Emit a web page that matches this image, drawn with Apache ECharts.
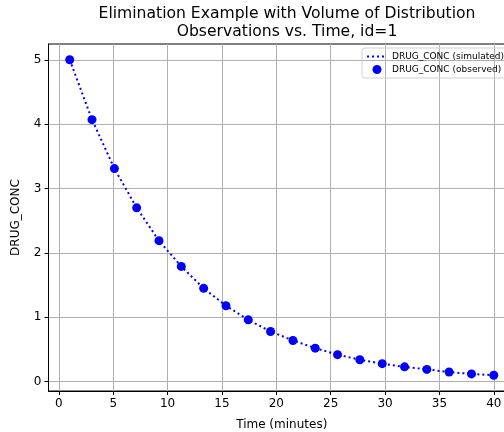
<!DOCTYPE html>
<html>
<head>
<meta charset="utf-8">
<script src="https://cdn.jsdelivr.net/npm/echarts@6/dist/echarts.min.js"></script>
<style>
  html, body { margin: 0; padding: 0; background: #fff; }
  #chart { width: 504px; height: 432px; }
</style>
</head>
<body>
<div id="chart"></div>
<script>
  // time points (minutes) and concentrations
  const timeMin = [1, 3.05, 5.11, 7.16, 9.21, 11.26, 13.32, 15.37, 17.42, 19.47,
    21.53, 23.58, 25.63, 27.68, 29.74, 31.79, 33.84, 35.89, 37.95, 40]
  const concSimulated = [5.00, 4.07, 3.31, 2.70, 2.19, 1.79, 1.45, 1.18, 0.96, 0.78,
    0.64, 0.52, 0.42, 0.34, 0.28, 0.23, 0.19, 0.15, 0.12, 0.10]
  const concObserved = [5.00, 4.07, 3.31, 2.70, 2.19, 1.79, 1.45, 1.18, 0.96, 0.78,
    0.64, 0.52, 0.42, 0.34, 0.28, 0.23, 0.19, 0.15, 0.12, 0.10]
  const xTicks = [0, 5, 10, 15, 20, 25, 30, 35, 40]
  const yTicks = [0, 1, 2, 3, 4, 5]

  const font = 'DejaVu Sans'
  const chart = echarts.init(document.getElementById('chart'))

  const option = {
    animation: false,
    textStyle: { fontFamily: font },
    title: {
      text: 'Elimination Example with Volume of Distribution\nObservations vs. Time, id=1',
      left: 282,
      textAlign: 'center',
      top: 0,
      textStyle: { fontFamily: font, fontSize: 15.6, fontWeight: 'normal', color: '#000', lineHeight: 18 }
    },
    legend: {
      orient: 'vertical',
      left: 362,
      top: 48,
      padding: [4, 6, 4, 4],
      itemGap: 4,
      itemWidth: 20,
      itemHeight: 9,
      borderColor: '#d0d0d0',
      borderWidth: 1,
      borderRadius: 3,
      textStyle: { fontFamily: font, fontSize: 9, color: '#000' },
      data: [
        { name: 'DRUG_CONC (simulated)', itemStyle: { opacity: 0 } },
        { name: 'DRUG_CONC (observed)', icon: 'circle' }
      ]
    },
    grid: {
      left: 48.5,
      top: 44,
      width: 466.5,
      height: 347,
      outerBoundsMode: 'none',
      show: true,
      borderColor: '#000',
      borderWidth: 1
    },
    xAxis: {
      type: 'value',
      min: -0.95,
      max: 41.95,
      name: 'Time (minutes)',
      nameLocation: 'middle',
      nameGap: 28,
      nameTextStyle: { fontFamily: font, fontSize: 12, color: '#000' },
      axisLine: { onZero: false, lineStyle: { color: '#000' } },
      axisTick: { show: true, length: 4, customValues: xTicks, lineStyle: { color: '#000' } },
      axisLabel: { customValues: xTicks, fontSize: 12, color: '#000', margin: 7 },
      splitLine: { show: true, customValues: xTicks, lineStyle: { color: '#b0b0b0', width: 1 } }
    },
    yAxis: {
      type: 'value',
      min: -0.145,
      max: 5.245,
      name: 'DRUG_CONC',
      nameLocation: 'middle',
      nameGap: 27,
      nameTextStyle: { fontFamily: font, fontSize: 12, color: '#000' },
      axisLine: { show: true, onZero: false, lineStyle: { color: '#000' } },
      axisTick: { show: true, length: 4, customValues: yTicks, lineStyle: { color: '#000' } },
      axisLabel: { customValues: yTicks, fontSize: 12, color: '#000', margin: 7 },
      splitLine: { show: true, customValues: yTicks, lineStyle: { color: '#b0b0b0', width: 1 } }
    },
    series: [
      {
        name: 'DRUG_CONC (simulated)',
        type: 'line',
        symbol: 'none',
        color: '#0000ff',
        lineStyle: { color: '#0000ff', width: 2, type: [2, 3] },
        data: timeMin.map((t, i) => [t, concSimulated[i]])
      },
      {
        name: 'DRUG_CONC (observed)',
        type: 'scatter',
        symbolSize: 9,
        itemStyle: { color: '#0000ff', opacity: 1 },
        data: timeMin.map((t, i) => [t, concObserved[i]])
      }
    ]
  }
  chart.setOption(option)
</script>
</body>
</html>
